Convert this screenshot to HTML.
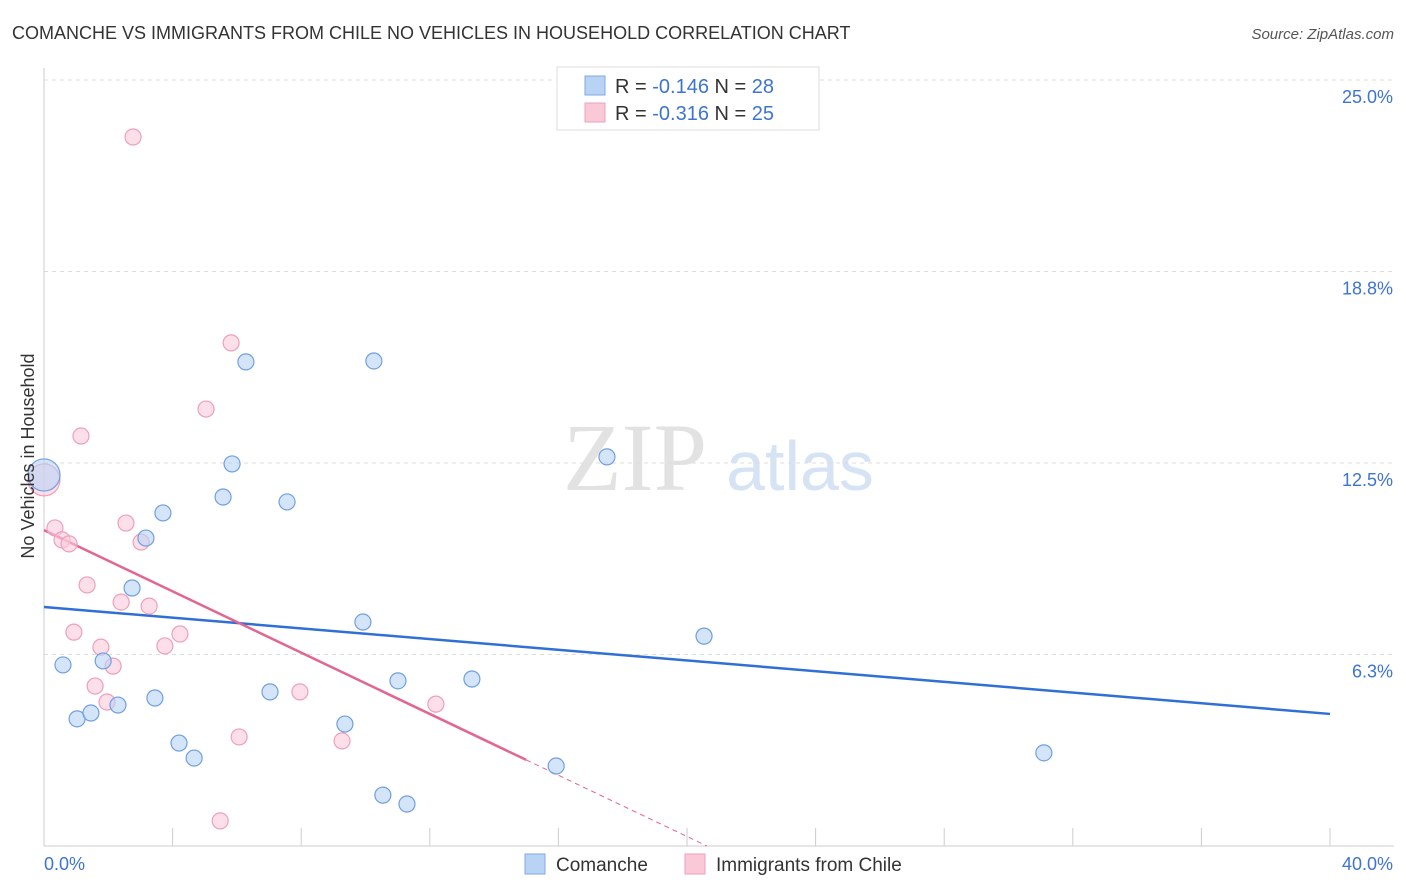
<!DOCTYPE html>
<html><head><meta charset="utf-8"><style>
body{margin:0;background:#fff;font-family:"Liberation Sans",sans-serif;}
svg{display:block}
</style></head><body>
<svg id="chart" width="1406" height="892" xmlns="http://www.w3.org/2000/svg" font-family="Liberation Sans, sans-serif">
<text x="12" y="39" font-size="18" fill="#333">COMANCHE VS IMMIGRANTS FROM CHILE NO VEHICLES IN HOUSEHOLD CORRELATION CHART</text>
<text x="1394" y="39" font-size="15" fill="#555" font-style="italic" text-anchor="end">Source: ZipAtlas.com</text>
<g>
<text x="635" y="490" font-size="96" fill="#e2e2e2" text-anchor="middle" font-family="Liberation Serif, serif">ZIP</text>
<text x="800" y="490" font-size="70" fill="#d6e3f5" text-anchor="middle">atlas</text>
</g>
<g id="grid"></g><g id="axes"></g><g id="lines"></g><g id="points"></g>
<text transform="translate(34,456) rotate(-90)" font-size="18" fill="#333" text-anchor="middle">No Vehicles in Household</text>
<g>
<rect x="557" y="67" width="262" height="63" fill="#fff" stroke="#ddd"/>
<rect x="585" y="76" width="20" height="19" fill="#b9d3f5" stroke="#7fa9e0"/>
<text x="615" y="93" font-size="20" fill="#333">R = <tspan fill="#3d74d0">-0.146</tspan>   N = <tspan fill="#3d74d0">28</tspan></text>
<rect x="585" y="103" width="20" height="19" fill="#fac9d8" stroke="#eea0b8"/>
<text x="615" y="120" font-size="20" fill="#333">R = <tspan fill="#3d74d0">-0.316</tspan>   N = <tspan fill="#3d74d0">25</tspan></text>
</g>
<g>
<rect x="525" y="854" width="20" height="20" fill="#b9d3f5" stroke="#7fa9e0"/>
<text x="556" y="871" font-size="19" fill="#333">Comanche</text>
<rect x="685" y="854" width="20" height="20" fill="#fac9d8" stroke="#eea0b8"/>
<text x="716" y="871" font-size="19" fill="#333">Immigrants from Chile</text>
</g>
</svg>
<script>
const yTicks=[6.3,12.5,18.8,25.0];
const yTickLabels=["6.3%","12.5%","18.8%","25.0%"];
const xTickLabels=["0.0%","40.0%"];
const comancheX=[0,0.59,1.03,1.46,1.84,2.30,2.74,3.17,3.45,3.70,4.20,4.67,5.57,5.85,6.28,7.03,7.56,9.36,9.92,10.26,10.54,11.01,11.29,13.31,15.93,17.51,20.53,31.10];
const comancheY=[12.11,5.91,4.15,4.34,6.04,4.60,8.42,10.05,4.83,10.87,3.36,2.87,11.39,12.47,15.80,5.03,11.23,3.98,7.31,15.83,1.66,5.39,1.37,5.45,2.61,12.70,6.85,3.04];
const chileX=[0,0.34,0.56,0.78,0.93,1.15,1.34,1.59,1.77,1.96,2.15,2.40,2.55,2.77,3.02,3.27,3.76,4.23,5.04,5.48,5.82,6.07,7.96,9.27,12.19];
const chileY=[11.95,10.38,9.99,9.86,6.98,13.38,8.52,5.22,6.49,4.70,5.87,7.96,10.54,23.14,9.92,7.83,6.53,6.92,14.26,0.82,16.42,3.56,5.03,3.43,4.63];
const comancheTrend=[7.80,4.31]; // y at x=0, x=40
const chileTrend=[10.31,-0.5]; // intercept, slope
const chileSolidEnd=15.0;
const NS="http://www.w3.org/2000/svg";
const X=v=>44+v*(1286/40), Y=v=>846-v*(766/25);
function mk(t,a,p){const e=document.createElementNS(NS,t);for(const k in a)e.setAttribute(k,a[k]);p.appendChild(e);return e;}
const grid=document.getElementById('grid'),axes=document.getElementById('axes'),lines=document.getElementById('lines'),pts=document.getElementById('points');
yTicks.forEach((t,i)=>{
 const yy=Y(t==25?25:t==18.8?18.75:t==12.5?12.5:6.25);
 const l=mk('line',{x1:44,x2:1394,y1:yy,y2:yy,stroke:'#ddd','stroke-dasharray':'4,4'},grid);
 
 const tx=mk('text',{x:1393,y:yy+23,'font-size':18,fill:'#3d74d0','text-anchor':'end'},axes);tx.textContent=yTickLabels[i];
 
});
const ax=mk('line',{x1:44,x2:44,y1:68,y2:846,stroke:'#ccc'},axes);
const bx=mk('line',{x1:44,x2:1394,y1:846,y2:846,stroke:'#ccc'},axes);
for(let i=1;i<=10;i++){const t=mk('line',{x1:X(i*4),x2:X(i*4),y1:828,y2:846,stroke:'#ccc'},axes);}
const xl0=mk('text',{x:44,y:870,'font-size':18,fill:'#3d74d0'},axes);xl0.textContent=xTickLabels[0];
const xl1=mk('text',{x:1393,y:870,'font-size':18,fill:'#3d74d0','text-anchor':'end'},axes);xl1.textContent=xTickLabels[1];
const bl=mk('line',{x1:X(0),y1:Y(comancheTrend[0]),x2:X(40),y2:Y(comancheTrend[1]),stroke:'#2f6fd6','stroke-width':2.5},lines);

const cy=x=>chileTrend[0]+chileTrend[1]*x, zero=-chileTrend[0]/chileTrend[1];
const pl=mk('line',{x1:X(0),y1:Y(cy(0)),x2:X(chileSolidEnd),y2:Y(cy(chileSolidEnd)),stroke:'#e2668f','stroke-width':2.5},lines);

const pd=mk('line',{x1:X(chileSolidEnd),y1:Y(cy(chileSolidEnd)),x2:X(zero),y2:Y(0),stroke:'#e2668f','stroke-width':1,'stroke-dasharray':'5,4'},lines);

function dots(xs,ys,fill,stroke,name){xs.forEach((x,i)=>{const r=i==0&&x==0?16:8;
 const c=mk('circle',{cx:X(x),cy:Y(ys[i]),r:r,fill:fill,'fill-opacity':0.6,stroke:stroke,'stroke-width':1.2},pts);
 });}
dots(chileX,chileY,'#fac9d8','#eea0b8','chile-point');
dots(comancheX,comancheY,'#b9d3f5','#6f9fe0','comanche-point');
</script>
</body></html>
